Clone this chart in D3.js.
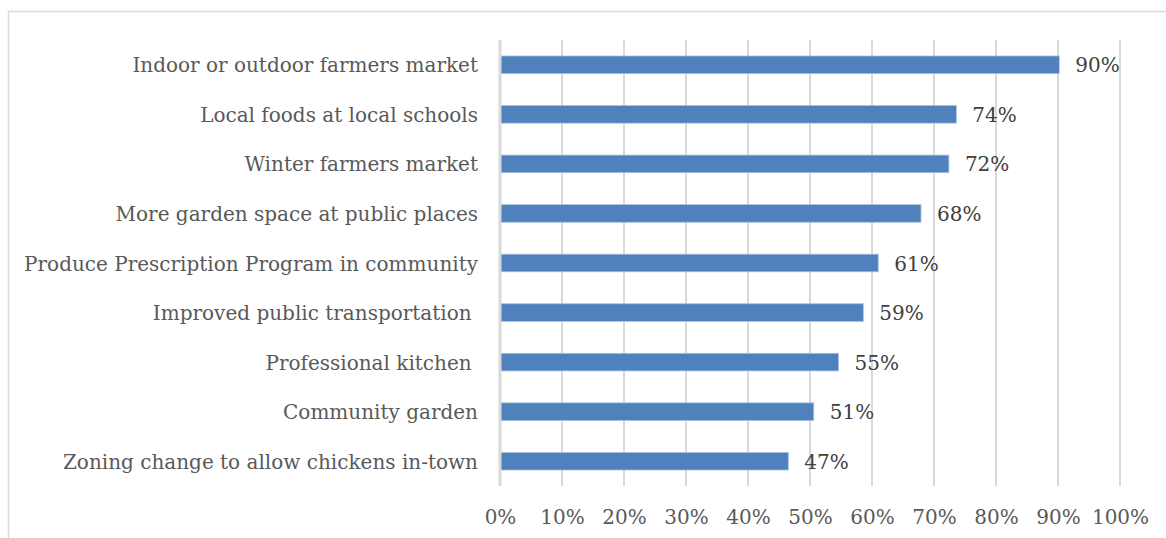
<!DOCTYPE html>
<html>
<head>
<meta charset="utf-8">
<script src="https://cdn.jsdelivr.net/npm/d3@7"></script>
<style>
  body { margin: 0; background: #fff; }
  svg { display: block; }
  text { font-family: "DejaVu Serif", serif; white-space: pre; }
</style>
</head>
<body>
<div id="chart"></div>
<script>
// survey answers, top to bottom
var categories = [
	"Indoor or outdoor farmers market",
	"Local foods at local schools",
	"Winter farmers market",
	"More garden space at public places",
	"Produce Prescription Program in community",
	"Improved public transportation ",
	"Professional kitchen ",
	"Community garden",
	"Zoning change to allow chickens in-town"
];
var percents = [90.2, 73.6, 72.4, 67.9, 61.0, 58.6, 54.6, 50.6, 46.5];
var tickValues = [0, 10, 20, 30, 40, 50, 60, 70, 80, 90, 100];

var width = 1166,
	height = 538,
	margin = {top: 40, right: 46, bottom: 52, left: 500},
	fontSize = "20px";

var svg = d3.select("#chart").append("svg")
	.attr("width", width)
	.attr("height", height);

// chart frame
svg.append("rect")
	.attr("x", 8.5).attr("y", 11.5)
	.attr("width", 1200).attr("height", 600)
	.attr("fill", "none")
	.attr("stroke", "#d9d9d9")
	.attr("stroke-width", 1.5);

var plotW = width - margin.left - margin.right,
	plotH = height - margin.top - margin.bottom;

var g = svg.append("g")
	.attr("transform", "translate(" + margin.left + "," + margin.top + ")");

var xScale = d3.scaleLinear().domain([0, 100]).range([0, plotW]),
	yScale = d3.scaleBand().domain(categories).range([0, plotH])
		.paddingInner(0.645).paddingOuter(0.3225);

// gridlines
g.selectAll(".grid")
	.data(tickValues.slice(1))
	.enter().append("line")
	.attr("class", "grid")
	.attr("x1", function(d) { return xScale(d); })
	.attr("x2", function(d) { return xScale(d); })
	.attr("y1", 0)
	.attr("y2", plotH)
	.attr("stroke", "#d9d9d9")
	.attr("stroke-width", 2);

// x axis (labels only)
var xAxis = d3.axisBottom(xScale)
	.tickValues(tickValues)
	.tickSize(0)
	.tickPadding(24)
	.tickFormat(function(d) { return d + "%"; });

var xg = g.append("g")
	.attr("transform", "translate(0," + plotH + ")")
	.call(xAxis);
xg.select(".domain").remove();
xg.selectAll("text")
	.style("font-family", "'DejaVu Serif', serif")
	.style("font-size", fontSize)
	.attr("fill", "#595959");

// bars
g.selectAll(".bar")
	.data(percents)
	.enter().append("rect")
	.attr("class", "bar")
	.attr("x", 0)
	.attr("y", function(d, i) { return yScale(categories[i]); })
	.attr("width", function(d) { return xScale(d); })
	.attr("height", yScale.bandwidth())
	.attr("fill", "#4f81bd")
	.attr("stroke", "#a7c0de")
	.attr("stroke-width", 0.8);

// vertical axis line
g.append("line")
	.attr("x1", 0).attr("x2", 0)
	.attr("y1", 0).attr("y2", plotH)
	.attr("stroke", "#d9d9d9")
	.attr("stroke-width", 3);

// category labels
g.selectAll(".cat")
	.data(categories)
	.enter().append("text")
	.attr("class", "cat")
	.attr("x", -22)
	.attr("y", function(d) { return yScale(d) + yScale.bandwidth() / 2; })
	.attr("dy", "0.38em")
	.attr("text-anchor", "end")
	.style("font-size", fontSize)
	.attr("fill", "#595959")
	.text(function(d) { return d; });

// value labels
g.selectAll(".val")
	.data(percents)
	.enter().append("text")
	.attr("class", "val")
	.attr("x", function(d) { return xScale(d) + 16; })
	.attr("y", function(d, i) { return yScale(categories[i]) + yScale.bandwidth() / 2; })
	.attr("dy", "0.38em")
	.style("font-size", fontSize)
	.attr("fill", "#404040")
	.text(function(d) { return Math.round(d) + "%"; });
</script>
</body>
</html>
